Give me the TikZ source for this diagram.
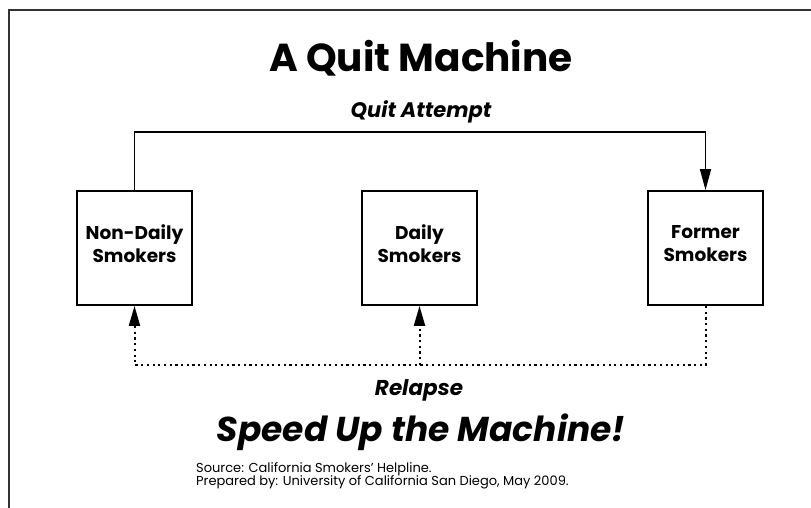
\documentclass[tikz,border=0pt]{standalone}
\usepackage{fontspec}
\setmainfont{Poppins}
\usetikzlibrary{arrows.meta}
\begin{document}
\begin{tikzpicture}[x=1pt,y=-1pt,
  box/.style={draw, line width=1.8pt, minimum width=115pt, minimum height=114pt, align=center, inner sep=0pt,
    text depth=8pt, font=\bfseries\fontsize{18.5}{23}\selectfont},
  conn/.style={line width=1.5pt, -{Triangle[length=21pt,width=11pt]}},
  dotconn/.style={line width=2pt, dash pattern=on 2.2pt off 3.5pt, -{Triangle[length=20pt,width=11pt]}},
  frame/.style={line width=1.5pt, black!80}]
\useasboundingbox (0,0) rectangle (811,508);
\draw[frame] (811,10) -- (9,10) -- (9,508);
\node[font=\bfseries\fontsize{39}{44}\selectfont] (title) at (421,58) {A Quit Machine};
\node[font=\bfseries\itshape\fontsize{21}{25}\selectfont] (qat) at (421,112) {Quit Attempt};
\node[box] (nd) at (134.5,248) {Non-Daily\\Smokers};
\node[box] (ds) at (419.5,248) {Daily\\Smokers};
\node[box] (fs) at (705.5,248) {Former\\Smokers};
\coordinate (qa) at (705.5,132);
\coordinate (rl) at (134.5,365);
\draw[conn] (nd.north) |- (qa) -| (fs.north);
\draw[dotconn] (fs.south) |- (rl) -| (nd.south);
\draw[dotconn] (ds.south |- rl) -- (ds.south);
\node[font=\bfseries\itshape\fontsize{21.5}{25}\selectfont] (rel) at (419,390) {Relapse};
\node[font=\bfseries\itshape\fontsize{34.5}{40}\selectfont] (speed) at (421,432) {Speed Up the Machine!};
\node[anchor=north west, align=left, inner sep=0pt, font=\fontsize{13}{13.5}\selectfont] (src) at (196,462)
  {Source: California Smokers’ Helpline.\\Prepared by: University of California San Diego, May 2009.};
\end{tikzpicture}
\end{document}
